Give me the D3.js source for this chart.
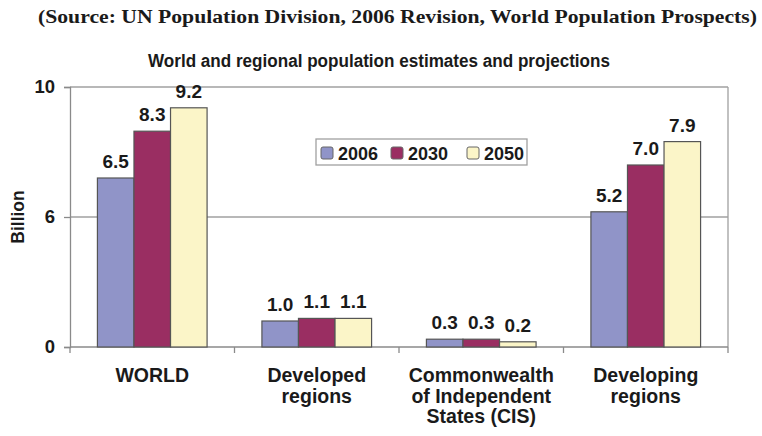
<!DOCTYPE html>
<html>
<head>
<meta charset="utf-8">
<script src="https://cdn.jsdelivr.net/npm/d3@7/dist/d3.min.js"></script>
<style>
  html, body { margin: 0; padding: 0; background: #fff; }
  svg { display: block; }
  text { font-family: "Liberation Sans", Arial, sans-serif; fill: #1a1a1a; }
</style>
</head>
<body>
<svg id="chart" width="762" height="436"></svg>
<script>
// Population (billions) by region and year
const categories = [
  ["WORLD"],
  ["Developed", "regions"],
  ["Commonwealth", "of Independent", "States (CIS)"],
  ["Developing", "regions"]
];
const years = ["2006", "2030", "2050"];
const values2006 = [6.5, 1.0, 0.3, 5.2];
const values2030 = [8.3, 1.1, 0.3, 7.0];
const values2050 = [9.2, 1.1, 0.2, 7.9];
const yTickValues = [0, 5, 10];
const yTickLabels = ["0", "6", "10"];
const colors = ["#9094c8", "#9a2e62", "#fbf5c8"];

const seriesValues = [values2006, values2030, values2050];
const rows = categories.map((c, i) => ({
  key: i,
  lines: c,
  vals: years.map((y, j) => ({ year: y, v: seriesValues[j][i], j }))
}));

const svg = d3.select("#chart");
const plot = { left: 70, right: 728, top: 87, bottom: 347 };

const x0 = d3.scaleBand()
  .domain(rows.map(r => r.key))
  .range([plot.left, plot.right])
  .paddingInner(0)
  .paddingOuter(0);
const x1 = d3.scaleBand()
  .domain(years)
  .range([0, x0.bandwidth()])
  .paddingInner(0)
  .paddingOuter(0.75);
const y = d3.scaleLinear().domain([0, 10]).range([plot.bottom, plot.top]);

// Titles
svg.append("text")
  .attr("x", 38).attr("y", 23)
  .attr("textLength", 719).attr("lengthAdjust", "spacingAndGlyphs")
  .style("font-family", "'Liberation Serif', 'Times New Roman', serif")
  .style("font-weight", "bold").style("font-size", "19px")
  .text("(Source: UN Population Division, 2006 Revision, World Population Prospects)");

svg.append("text")
  .attr("x", 148).attr("y", 67)
  .attr("textLength", 462).attr("lengthAdjust", "spacingAndGlyphs")
  .style("font-weight", "bold").style("font-size", "18px")
  .text("World and regional population estimates and projections");

// Gridlines
svg.append("g").selectAll("line")
  .data(yTickValues.filter(v => v > 0))
  .join("line")
  .attr("x1", plot.left).attr("x2", plot.right)
  .attr("y1", d => y(d)).attr("y2", d => y(d))
  .attr("stroke", "#a0a0a0").attr("stroke-width", 1.3);

// Right frame edge
svg.append("line")
  .attr("x1", plot.right).attr("x2", plot.right)
  .attr("y1", plot.top).attr("y2", plot.bottom)
  .attr("stroke", "#a0a0a0").attr("stroke-width", 1.3);

// Y axis
const yAxis = d3.axisLeft(y)
  .tickValues(yTickValues)
  .tickFormat((d, i) => yTickLabels[i])
  .tickSize(6)
  .tickPadding(9);
const gy = svg.append("g")
  .attr("transform", `translate(${plot.left},0)`)
  .call(yAxis);
gy.select(".domain").attr("stroke", "#8a8a8a").attr("stroke-width", 1.3);
gy.selectAll(".tick line").attr("stroke", "#8a8a8a").attr("stroke-width", 1.3);
gy.selectAll(".tick text")
  .attr("fill", "#1a1a1a")
  .style("font-family", "'Liberation Sans', Arial, sans-serif")
  .style("font-weight", "bold").style("font-size", "18.5px");

// Y axis title
svg.append("text")
  .attr("transform", `translate(18,${(plot.top + plot.bottom) / 2}) rotate(-90)`)
  .attr("text-anchor", "middle")
  .attr("dominant-baseline", "central")
  .style("font-weight", "bold").style("font-size", "17.5px")
  .text("Billion");

// X axis with ticks on category boundaries
const boundaries = rows.map(r => x0(r.key)).concat([plot.right]);
const gx = svg.append("g");
gx.append("line")
  .attr("x1", plot.left).attr("x2", plot.right)
  .attr("y1", plot.bottom).attr("y2", plot.bottom)
  .attr("stroke", "#8a8a8a").attr("stroke-width", 1.3);
gx.selectAll("line.tk")
  .data(boundaries)
  .join("line")
  .attr("class", "tk")
  .attr("x1", d => d).attr("x2", d => d)
  .attr("y1", plot.bottom).attr("y2", plot.bottom + 6)
  .attr("stroke", "#8a8a8a").attr("stroke-width", 1.3);

// Category labels
const catLabels = svg.append("g").selectAll("text")
  .data(rows)
  .join("text")
  .attr("text-anchor", "middle")
  .style("font-weight", "bold").style("font-size", "19.5px")
  .attr("transform", d => `translate(${x0(d.key) + x0.bandwidth() / 2},0)`);
catLabels.selectAll("tspan")
  .data(d => d.lines)
  .join("tspan")
  .attr("x", 0)
  .attr("y", (d, i) => 382 + i * 20.5)
  .text(d => d);

// Bars
const groups = svg.append("g").selectAll("g")
  .data(rows)
  .join("g")
  .attr("transform", d => `translate(${x0(d.key)},0)`);

groups.selectAll("rect")
  .data(d => d.vals)
  .join("rect")
  .attr("x", d => x1(d.year))
  .attr("y", d => y(d.v))
  .attr("width", x1.bandwidth())
  .attr("height", d => y(0) - y(d.v))
  .attr("fill", d => colors[d.j])
  .attr("stroke", "#555")
  .attr("stroke-width", 1.2);

groups.selectAll("text")
  .data(d => d.vals)
  .join("text")
  .attr("x", d => x1(d.year) + x1.bandwidth() / 2)
  .attr("y", d => y(d.v) - 10)
  .attr("text-anchor", "middle")
  .style("font-weight", "bold").style("font-size", "19px")
  .text(d => d.v.toFixed(1));

// Legend
const legend = svg.append("g").attr("transform", "translate(316,139)");
legend.append("rect")
  .attr("width", 211).attr("height", 26)
  .attr("fill", "#fff").attr("stroke", "#a0a0a0").attr("stroke-width", 1.3);
const legendX = [5, 75, 151];
const li = legend.selectAll("g.item")
  .data(years)
  .join("g")
  .attr("class", "item")
  .attr("transform", (d, i) => `translate(${legendX[i]},0)`);
li.append("rect")
  .attr("x", 0).attr("y", 8)
  .attr("width", 12).attr("height", 12)
  .attr("rx", 2)
  .attr("fill", (d, i) => colors[i])
  .attr("stroke", "#666").attr("stroke-width", 1);
li.append("text")
  .attr("x", 17).attr("y", 20.5)
  .style("font-weight", "bold").style("font-size", "18px")
  .text(d => d);
</script>
</body>
</html>
